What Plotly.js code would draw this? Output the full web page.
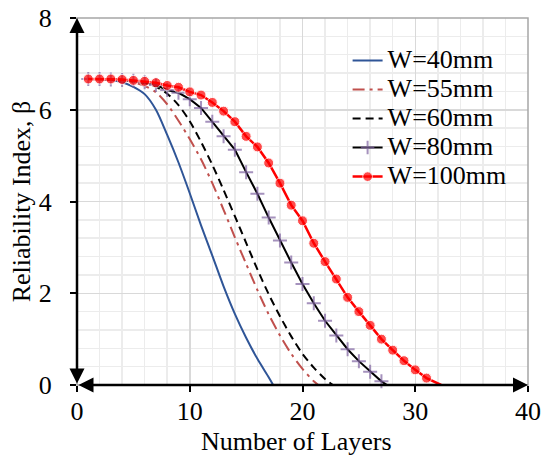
<!DOCTYPE html>
<html>
<head>
<meta charset="utf-8">
<script src="https://cdn.plot.ly/plotly-3.0.1.min.js"></script>
<style>html,body{margin:0;padding:0;background:#fff;}#chart{width:543px;height:455px;}</style>
</head>
<body>
<div id="chart"></div>
<script>
// ---- data ----
const seriesNames = ['W=40mm', 'W=55mm', 'W=60mm', 'W=80mm', 'W=100mm'];

const layersW40 = [1,2,3,4,5,6,7,8,9,10,11,12,13,14,15,16,17,17.4];
const betaW40   = [6.67,6.67,6.65,6.6,6.5,6.34,6.0,5.45,4.85,4.18,3.48,2.82,2.15,1.55,1.03,0.57,0.17,0];

const layersW55 = [1,2,3,4,5,6,7,8,9,10,11,12,13,14,15,16,17,18,19,20,21,21.4];
const betaW55   = [6.67,6.67,6.66,6.64,6.6,6.52,6.38,6.12,5.76,5.36,4.92,4.4,3.82,3.22,2.64,2.07,1.54,1.08,0.68,0.35,0.08,0];

const layersW60 = [1,2,3,4,5,6,7,8,9,10,11,12,13,14,15,16,17,18,19,20,21,22,22.7];
const betaW60   = [6.67,6.67,6.66,6.65,6.62,6.58,6.5,6.35,6.1,5.75,5.3,4.8,4.25,3.68,3.1,2.52,1.98,1.5,1.06,0.68,0.38,0.13,0];

const layersW80 = [1,2,3,4,5,6,7,8,9,10,11,12,13,14,15,16,17,18,19,20,21,22,23,24,25,26,27,27.5];
const betaW80   = [6.67,6.67,6.66,6.65,6.63,6.6,6.54,6.43,6.37,6.23,6.04,5.74,5.42,5.13,4.64,4.17,3.65,3.15,2.67,2.2,1.78,1.4,1.08,0.78,0.52,0.29,0.08,0];

const layersW100 = [1,2,3,4,5,6,7,8,9,10,11,12,13,14,15,16,17,18,19,20,21,22,23,24,25,26,27,28,29,30,31,32.3];
const betaW100   = [6.67,6.67,6.67,6.66,6.64,6.62,6.59,6.53,6.49,6.39,6.32,6.16,5.97,5.74,5.42,5.19,4.84,4.40,3.92,3.58,3.09,2.69,2.31,1.91,1.60,1.30,1.00,0.76,0.53,0.33,0.15,0];

const xTickVals = [0,10,20,30,40];
const yTickVals = [0,2,4,6,8];
const xAxisTitle = 'Number of Layers';
const yAxisTitle = 'Reliability Index, β';

// ---- drawing ----
const FONT = 'Liberation Serif, Times New Roman, serif';
const FS = 26;
// hide the marker on the final axis-crossing point
const sizesFor = (xs, s) => xs.map((v, i) => (i === xs.length - 1 ? 0 : s));
const legendLabel = s => '<span style="font-size:' + FS + 'px">' + s + '</span>';

const traces = [
  {x: layersW40, y: betaW40, name: legendLabel(seriesNames[0]), mode: 'lines',
   line: {color: '#2F5597', width: 2, shape: 'spline', smoothing: 0.8}},
  {x: layersW55, y: betaW55, name: legendLabel(seriesNames[1]), mode: 'lines',
   line: {color: '#C0504D', width: 2, dash: '12px,5px,3px,5px', shape: 'spline', smoothing: 0.8}},
  {x: layersW60, y: betaW60, name: legendLabel(seriesNames[2]), mode: 'lines',
   line: {color: '#000000', width: 2, dash: '8px,5px', shape: 'spline', smoothing: 0.8}},
  {x: layersW80, y: betaW80, name: legendLabel(seriesNames[3]), mode: 'lines+markers',
   line: {color: '#000000', width: 2},
   marker: {symbol: 'cross-thin', size: sizesFor(layersW80, 10), line: {color: '#8064A2', width: 2}, color: '#8064A2'}},
  {x: layersW100, y: betaW100, name: legendLabel(seriesNames[4]), mode: 'lines+markers',
   line: {color: '#FF0000', width: 2.5},
   marker: {symbol: 'circle', size: sizesFor(layersW100, 10), color: '#FF0000'}}
];
traces.forEach(t => { t.cliponaxis = false; });

const axisCommon = {
  ticks: 'outside', ticklen: 6, tickwidth: 2, tickcolor: '#000',
  showgrid: true, gridcolor: '#d9d9d9', gridwidth: 1.5,
  zeroline: false, showline: false,
  tickfont: {family: FONT, size: FS, color: '#000'},
  fixedrange: true
};

const layout = {
  width: 543, height: 455,
  margin: {l: 77, r: 15, t: 18, b: 70},
  paper_bgcolor: '#fff', plot_bgcolor: '#fff',
  font: {family: FONT, color: '#000'},
  showlegend: true,
  legend: {x: 0.60, y: 0.937, xanchor: 'left', yanchor: 'top',
           bgcolor: 'rgba(0,0,0,0)', borderwidth: 0,
           font: {family: FONT, size: 20, color: '#000'}, tracegroupgap: 0},
  xaxis: Object.assign({}, axisCommon, {
    range: [0, 40], tickvals: xTickVals, ticktext: xTickVals.map(String),
    ticklabelstandoff: -3,
    minor: {dtick: 2, tick0: 0, showgrid: true, gridcolor: '#ececec', gridwidth: 1.5, ticks: ''}
  }),
  yaxis: Object.assign({}, axisCommon, {
    range: [0, 8], tickvals: yTickVals, ticktext: yTickVals.map(String),
    ticklabelstandoff: 13,
    minor: {dtick: 0.4, tick0: 0, showgrid: true, gridcolor: '#ececec', gridwidth: 1.5, ticks: ''},
    title: {text: yAxisTitle, font: {family: FONT, size: FS, color: '#000'}, standoff: 0}
  }),
  shapes: [
    {type: 'rect', xref: 'paper', yref: 'paper', x0: 0, x1: 1, y0: 0, y1: 1,
     line: {color: '#a6a6a6', width: 1.5}, layer: 'above'}
  ],
  annotations: [
    // x-axis title
    {xref: 'paper', yref: 'paper', x: 0.486, y: -0.1526, xanchor: 'center', yanchor: 'middle',
     text: xAxisTitle, showarrow: false, font: {family: FONT, size: FS, color: '#000'}},
    // axis lines with arrowheads at both ends
    {x: 40, y: 0, ax: 0, ay: 0, xref: 'x', yref: 'y', axref: 'x', ayref: 'y',
     text: '', showarrow: true, arrowside: 'end+start', arrowhead: 2, arrowsize: 1.2,
     arrowwidth: 2.5, arrowcolor: '#000', standoff: 0, startstandoff: 0},
    {x: 0, y: 8, ax: 0, ay: 0, xref: 'x', yref: 'y', axref: 'x', ayref: 'y',
     text: '', showarrow: true, arrowside: 'end+start', arrowhead: 2, arrowsize: 1.2,
     arrowwidth: 2.5, arrowcolor: '#000', standoff: 0, startstandoff: 0}
  ]
};

Plotly.newPlot('chart', traces, layout, {displayModeBar: false, staticPlot: true});
</script>
</body>
</html>
